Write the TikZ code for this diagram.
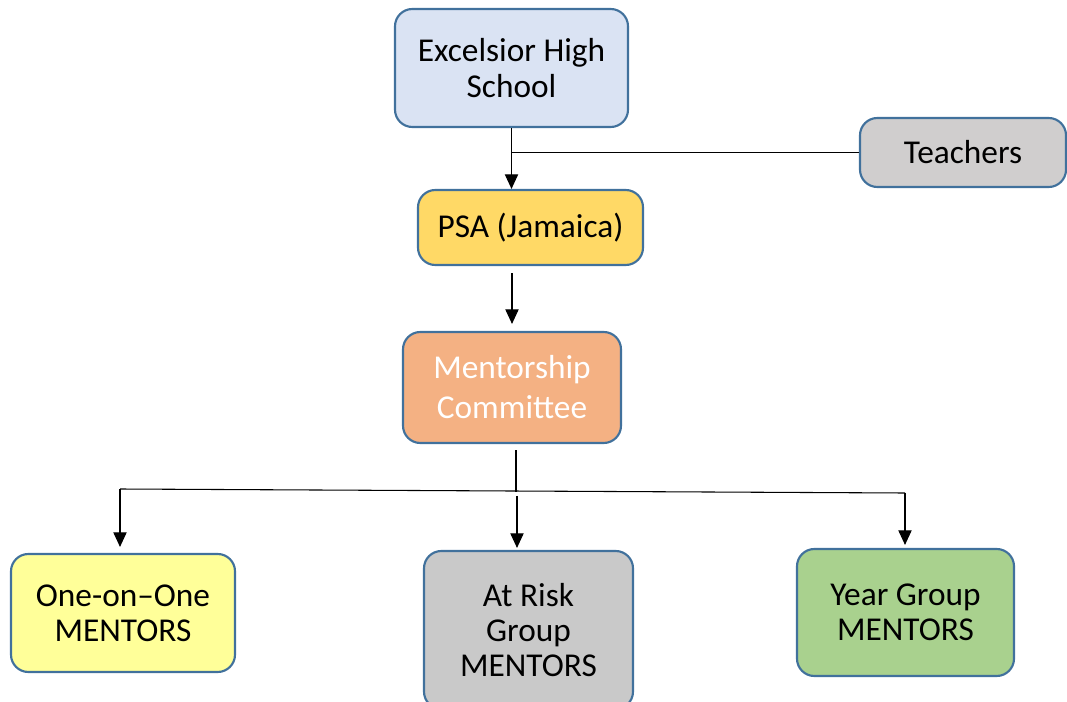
\documentclass[tikz,border=0pt]{standalone}
\usepackage{fontspec}
\setmainfont{Carlito}
\usepackage{tikz}
\usetikzlibrary{calc}
\usetikzlibrary{arrows.meta,shapes}
\usetikzlibrary{positioning}
\usepackage{xcolor}
\definecolor{edgeblue}{HTML}{41719C}
\definecolor{schoolfill}{HTML}{DAE3F3}
\definecolor{teachfill}{HTML}{D0CECE}
\definecolor{psafill}{HTML}{FFD966}
\definecolor{commfill}{HTML}{F4B183}
\definecolor{onefill}{HTML}{FFFF99}
\definecolor{riskfill}{HTML}{C9C9C9}
\definecolor{yearfill}{HTML}{A9D18E}
\tikzset{
  orgbox/.style={draw=edgeblue,line width=1.6pt,rounded corners=13pt,align=center,
    inner sep=0pt,font=\fontsize{25}{26.5}\selectfont},
  conn/.style={line width=0.8pt},
  arr/.style={conn,-{Triangle[length=11pt,width=10pt]}}
}
\begin{document}
\begin{tikzpicture}[x=0.75pt,y=-0.75pt]
        \useasboundingbox (0,0) rectangle (1067,702);
        \node[orgbox,fill=schoolfill,minimum width=233*0.75pt,minimum height=118*0.75pt] (school) at (511.5,68) {Excelsior High\\School};
        \node[orgbox,fill=teachfill,minimum width=206*0.75pt,minimum height=69*0.75pt] (teach) at (963,152.5) {Teachers};
        \node[orgbox,fill=psafill,minimum width=225*0.75pt,minimum height=75*0.75pt] (psa) at (530.5,227.5) {PSA (Jamaica)};
        \node[orgbox,fill=commfill,text=white,minimum width=218*0.75pt,minimum height=111*0.75pt,
          font=\fontsize{25}{30}\selectfont] (comm) at (512,387.5) {Mentorship\\Committee};
        \node[orgbox,fill=onefill,minimum width=224*0.75pt,minimum height=118*0.75pt] (one) at (123,613) {One-on–One\\MENTORS};
        \node[orgbox,fill=riskfill,minimum width=209*0.75pt,minimum height=158*0.75pt] (risk) at (528.5,630) {At Risk\\Group\\MENTORS};
        \node[orgbox,fill=yearfill,minimum width=217*0.75pt,minimum height=127*0.75pt] (year) at (905.5,612.5) {Year Group\\MENTORS};
        \coordinate (barL) at (120,489);
        \coordinate (barR) at (905,493);
        % top part
        \draw[arr] (school.south) -- (school.south |- psa.north);
        \draw[conn] (teach.west) -- (school.south |- teach.west);
        \draw[arr] ($(comm.north |- psa.south)+(0,7)$) -- ($(comm.north)+(0,-7)$);
        % branches
        \draw[conn] ($(comm.south)+(4,6)$) -- ++(0,42);
        \draw[conn] (barL) -- (barR);
        \draw[arr] (barL) -- ($(barL |- one.north)+(0,-6)$);
        \draw[arr] ($(risk.north)+(-11.5,-54)$) -- ($(risk.north)+(-11.5,-2)$);
        \draw[arr] (barR) -- ($(barR |- year.north)+(0,-3)$);
\end{tikzpicture}
\end{document}
